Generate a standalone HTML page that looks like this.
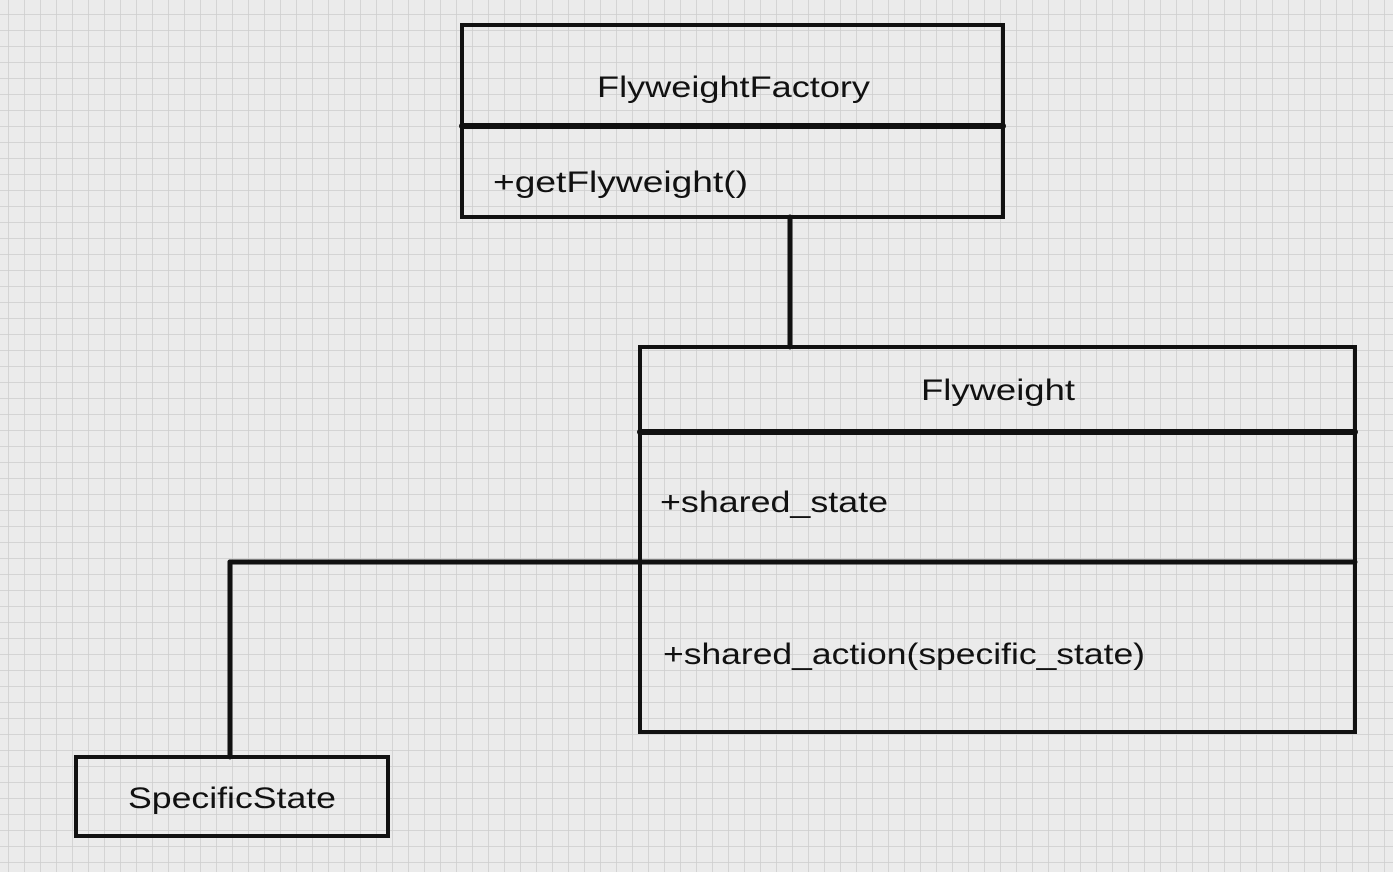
<!DOCTYPE html>
<html><head><style>
html,body{margin:0;padding:0;background:#ebebeb;}
svg{display:block;}
text{font-family:"Liberation Sans",sans-serif;font-size:30px;fill:#111;}
</style></head><body>
<svg width="1393" height="872" xmlns="http://www.w3.org/2000/svg">
<defs>
<pattern id="g" width="16" height="16" patternUnits="userSpaceOnUse" x="8" y="14">
<path d="M0 0H16M0 0V16" stroke="#cdcdcd" stroke-width="1.5" fill="none"/>
</pattern>
</defs>
<rect width="1393" height="872" fill="#ebebeb"/>
<rect width="1393" height="872" fill="url(#g)"/>
<g stroke="#111" fill="none" stroke-linecap="round">
<rect x="462" y="25" width="541" height="192" stroke-width="4"/>
<line x1="462" y1="126" x2="1003" y2="126" stroke-width="6"/>
<line x1="790" y1="217" x2="790" y2="347" stroke-width="5"/>
<rect x="640" y="347" width="715" height="385" stroke-width="4"/>
<line x1="640" y1="432" x2="1355" y2="432" stroke-width="6"/>
<line x1="230" y1="562" x2="1355" y2="562" stroke-width="5"/>
<line x1="230" y1="562" x2="230" y2="757" stroke-width="5"/>
<rect x="76" y="757" width="312" height="79" stroke-width="4"/>
</g>
<text x="597" y="97" textLength="273" lengthAdjust="spacingAndGlyphs">FlyweightFactory</text>
<text x="493" y="192" textLength="255" lengthAdjust="spacingAndGlyphs">+getFlyweight()</text>
<text x="921" y="400" textLength="154" lengthAdjust="spacingAndGlyphs">Flyweight</text>
<text x="660" y="512" textLength="228" lengthAdjust="spacingAndGlyphs">+shared_state</text>
<text x="663" y="664" textLength="482" lengthAdjust="spacingAndGlyphs">+shared_action(specific_state)</text>
<text x="128" y="808" textLength="208" lengthAdjust="spacingAndGlyphs">SpecificState</text>
</svg>
</body></html>
